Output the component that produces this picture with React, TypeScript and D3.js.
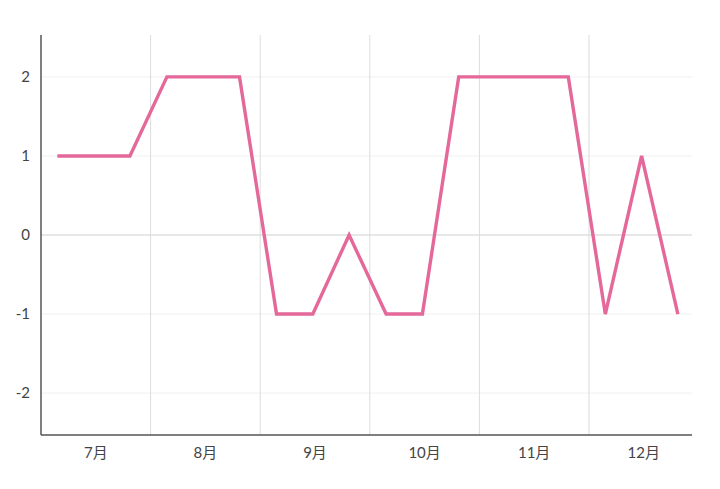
import React from 'react';
import { scaleLinear, line } from 'd3';

const months = ['7月', '8月', '9月', '10月', '11月', '12月'];
// three readings per month, on the 5th, 15th and 25th
const days = [5, 15, 25];
const values = [1, 1, 1, 2, 2, 2, -1, -1, 0, -1, -1, 2, 2, 2, 2, -1, 1, -1];
const yTicks = [-2, -1, 0, 1, 2];

const width = 720;
const height = 489;
const left = 41;
const right = 692;
const top = 35;
const bottom = 435;

const font = "Lato, 'Noto Sans CJK JP', sans-serif";

function App() {
  // x is measured in months from 1 July
  const xScale = scaleLinear().domain([0, 5.94]).range([left, right]);
  const yScale = scaleLinear().domain([-2.53, 2.53]).range([bottom, top]);

  const points = values.map((v, i) => ({
    t: Math.floor(i / 3) + (days[i % 3] - 0.5) / 30.2,
    v,
  }));

  const path = line<{ t: number; v: number }>()
    .x(d => xScale(d.t))
    .y(d => yScale(d.v))(points);

  return (
    <svg
      width={width}
      height={height}
      style={{ position: 'absolute', left: 0, top: 0, background: '#fff' }}
    >
      {yTicks.map(t => (
        <line
          key={'h' + t}
          x1={left}
          x2={right}
          y1={yScale(t)}
          y2={yScale(t)}
          stroke={t === 0 ? '#cfcfcf' : '#f0f0f0'}
          strokeWidth={1}
        />
      ))}
      {months.slice(1).map((m, i) => (
        <line
          key={'v' + m}
          x1={xScale(i + 1)}
          x2={xScale(i + 1)}
          y1={top}
          y2={bottom}
          stroke="#dcdcdc"
          strokeWidth={1}
        />
      ))}

      <path d={path!} fill="none" stroke="#e5689b" strokeWidth={3.4} strokeLinejoin="miter" />

      <line x1={left} x2={left} y1={top} y2={bottom} stroke="#555" strokeWidth={1.5} />
      <line x1={left} x2={right} y1={bottom} y2={bottom} stroke="#555" strokeWidth={1.5} />

      {yTicks.map(t => (
        <text
          key={'yl' + t}
          x={30}
          y={yScale(t)}
          dy="0.35em"
          textAnchor="end"
          fontSize={15}
          fontFamily={font}
          fill="#444"
        >
          {t}
        </text>
      ))}
      {months.map((m, i) => (
        <text
          key={'xl' + m}
          x={xScale(i + 0.5)}
          y={458}
          textAnchor="middle"
          fontSize={15}
          fontFamily={font}
          fill="#444"
        >
          {m}
        </text>
      ))}
    </svg>
  );
}

export default App;
